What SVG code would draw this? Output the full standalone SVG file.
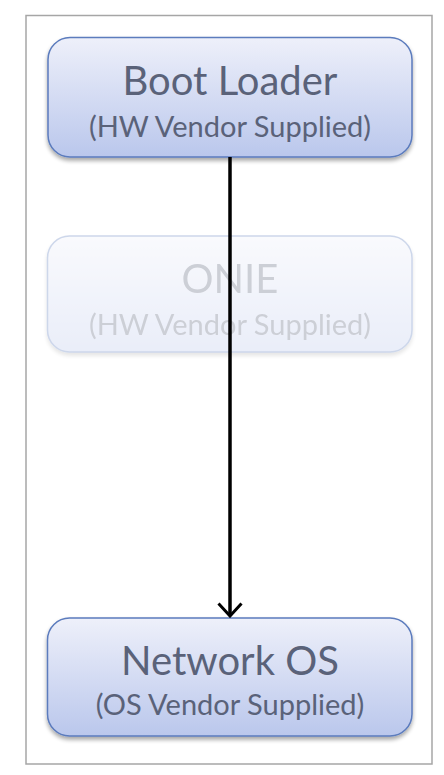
<svg xmlns="http://www.w3.org/2000/svg" width="444" height="775" viewBox="0 0 444 775">
<style>
.box{stroke:#5b7bbd;stroke-width:1.5}
.t1{font-family:Lato,"Open Sans",sans-serif;font-size:40px;fill:#5a6279;text-anchor:middle}
.t2{font-family:Lato,"Open Sans",sans-serif;font-size:29px;fill:#5a6279;text-anchor:middle}
</style>
<defs>
<linearGradient id="g" x1="0" y1="0" x2="0" y2="1">
<stop offset="0" stop-color="#eef0fa"/>
<stop offset="1" stop-color="#bac7ec"/>
</linearGradient>
<filter id="sh" x="-10%" y="-10%" width="120%" height="130%">
<feGaussianBlur in="SourceAlpha" stdDeviation="2"/>
<feOffset dy="3" result="b"/>
<feComponentTransfer><feFuncA type="linear" slope="0.35"/></feComponentTransfer>
<feMerge><feMergeNode/><feMergeNode in="SourceGraphic"/></feMerge>
</filter>
<marker id="arr" viewBox="0 0 16 26" refX="14" refY="13" markerWidth="16" markerHeight="26" markerUnits="userSpaceOnUse" orient="auto">
<path d="M1.5,1.5 L14,13 L1.5,24.5" fill="none" stroke="#000" stroke-width="3"/>
</marker>
</defs>
<rect x="26" y="15.5" width="406" height="748.5" fill="#fff" stroke="#a6a6a6" stroke-width="1.5"/>
<g id="boot-loader">
<rect class="box" x="48" y="37.5" width="364" height="119.5" rx="22" fill="url(#g)" filter="url(#sh)"/>
<text class="t1" x="230" y="95">Boot Loader</text>
<text class="t2" x="230" y="137">(HW Vendor Supplied)</text>
</g>
<g id="onie" opacity="0.3">
<rect class="box" x="47.5" y="236" width="364.5" height="116" rx="22" fill="url(#g)" filter="url(#sh)"/>
<text class="t1" x="230" y="293">ONIE</text>
<text class="t2" x="230" y="335">(HW Vendor Supplied)</text>
</g>
<g id="network-os">
<rect class="box" x="47.5" y="618" width="364.5" height="118" rx="22" fill="url(#g)" filter="url(#sh)"/>
<text class="t1" x="230" y="675">Network OS</text>
<text class="t2" x="230" y="715">(OS Vendor Supplied)</text>
</g>
<g id="connectors">
<path d="M230,157 V616" stroke="#000" stroke-width="3.5" fill="none" marker-end="url(#arr)"/>
</g>
</svg>
